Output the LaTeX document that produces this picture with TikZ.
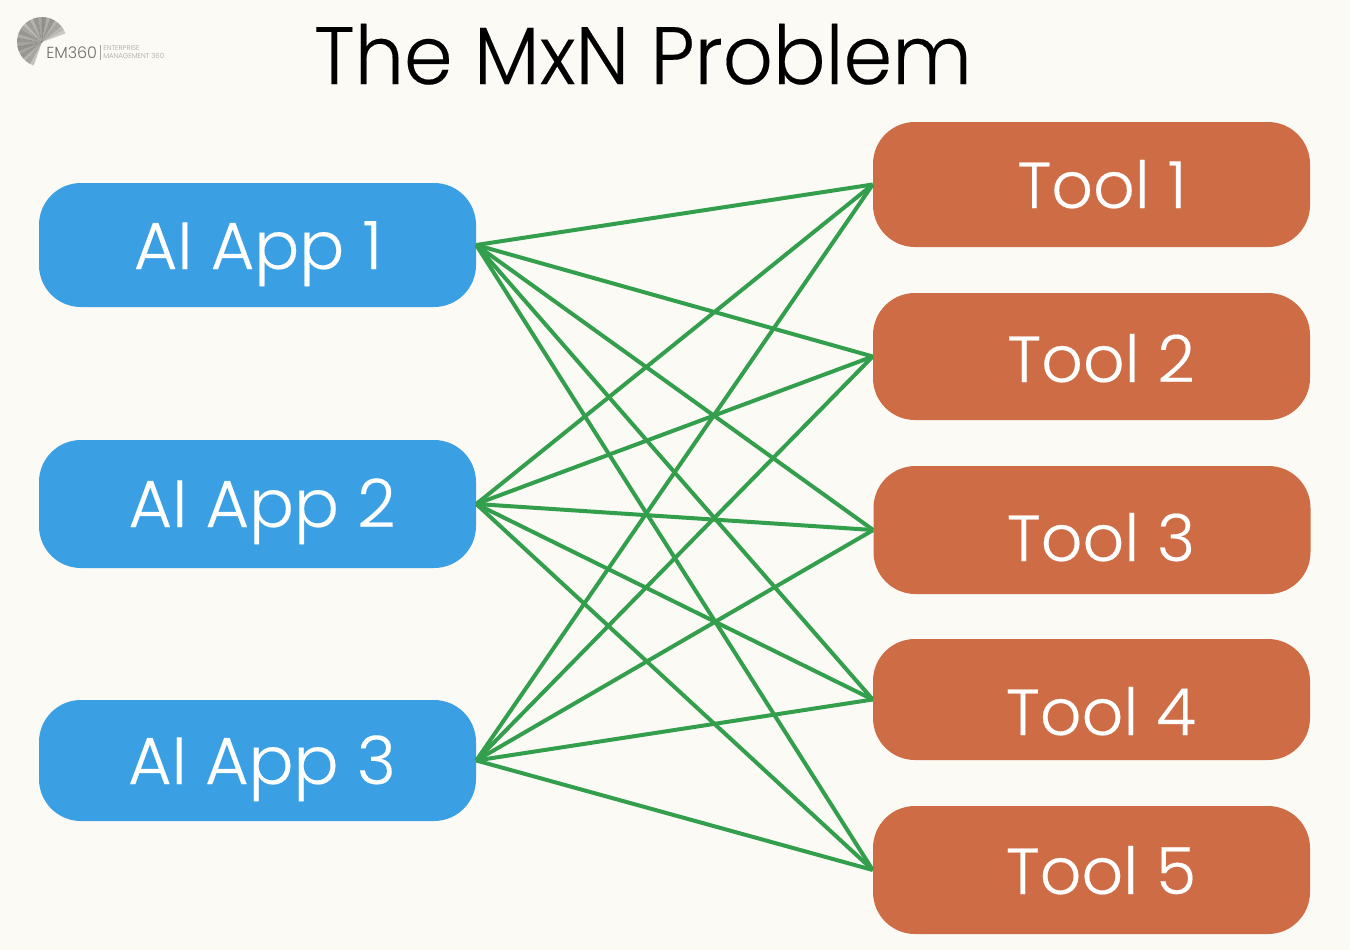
\documentclass[tikz,border=0pt]{standalone}
\usepackage{fontspec}
\setmainfont{Poppins}[UprightFont=*-Light]
\newfontfamily\titlefont{Poppins}[UprightFont=*-Light,FakeStretch=0.96,FakeBold=0.25]
\newfontfamily\labfont{Poppins}[UprightFont=*-Light,FakeBold=0.25]
\definecolor{bgc}{HTML}{FBFAF5}
\definecolor{bluec}{HTML}{3A9FE3}
\definecolor{orangec}{HTML}{CD6C45}
\definecolor{greenc}{HTML}{339E4B}
\definecolor{logoc}{HTML}{6F6F68}
\definecolor{logosubc}{HTML}{A3A39C}
\tikzset{
 box/.style={rounded corners=31.5pt,inner sep=0pt,minimum width=327.75pt},
 appbox/.style={box,fill=bluec},
 toolbox/.style={box,fill=orangec},
 lab/.style={text=white,font=\labfont\fontsize{50}{50}\selectfont,inner sep=0pt,anchor=base},
 toollab/.style={lab,font=\labfont\fontsize{48.8}{50}\selectfont},
 link/.style={draw=greenc,line width=3pt},
 logosmall/.style={anchor=base west,inner sep=0pt,text=logosubc,font=\fontsize{5.2}{6}\selectfont},
}
\begin{document}
\begin{tikzpicture}[x=0.75pt,y=-0.75pt]
\useasboundingbox[fill=bgc] (0,0) rectangle (1350,950);
% logo: a fan of grey sectors, seen angles 20 to 250 degrees
\foreach \a/\o in {20/.35,30/.45,40/.6,50/.5,60/.7,70/.55,80/.75,90/.6,100/.7,110/.5,120/.65,130/.45,140/.6,150/.7,160/.55,170/.7,180/.6,190/.75,200/.6,210/.7,220/.5,230/.6,240/.4}{
  \fill[logoc,opacity=\o] (42,42) -- ++(-\a:25) arc[start angle=-\a,end angle=-\a-10.5,radius=25] -- cycle;
}
\node[anchor=base west,inner sep=0pt,text=logoc,font=\fontsize{12}{12}\selectfont] (logoname) at (46,58) {EM360};
\node[logosmall] (logosub) at (103,50) {ENTERPRISE};
\node[logosmall] (logosubb) at (103,58.5) {MANAGEMENT 360};
\draw[logosubc,line width=.4pt] (100,45) -- (100,60);
% title
\node[anchor=base,inner sep=0pt,font=\titlefont\fontsize{61}{61}\selectfont,text=black] (title) at (643,84) {The MxN Problem};
% boxes
\node[appbox,minimum height=93pt] (app1) at (257.5,245) {};
\node[appbox,minimum height=96pt] (app2) at (257.5,504) {};
\node[appbox,minimum height=90.75pt] (app3) at (257.5,760.5) {};
\node[toolbox,minimum height=93.75pt] (tool1) at (1091.5,184.5) {};
\node[toolbox,minimum height=95.25pt] (tool2) at (1091.5,356.5) {};
\node[toolbox,minimum height=96pt] (tool3) at (1092,530) {};
\node[toolbox,minimum height=90.75pt] (tool4) at (1091.5,699.5) {};
\node[toolbox,minimum height=96pt] (tool5) at (1091.5,870) {};
% labels
\node[lab] (la1) at (258,269) {AI App 1};
\node[lab] (la2) at (262,527) {AI App 2};
\node[lab] (la3) at (262,784) {AI App 3};
\node[toollab] (lt1) at (1102,208) {Tool 1};
\node[toollab] (lt2) at (1101,382) {Tool 2};
\node[toollab] (lt3) at (1101,561) {Tool 3};
\node[toollab] (lt4) at (1101,735) {Tool 4};
\node[toollab] (lt5) at (1101,894) {Tool 5};
% connectors
\foreach \i in {1,2,3}{
  \foreach \j in {1,2,3,4,5}{
    \draw[link] (app\i.east) -- (tool\j.west);
  }
}
\end{tikzpicture}
\end{document}
